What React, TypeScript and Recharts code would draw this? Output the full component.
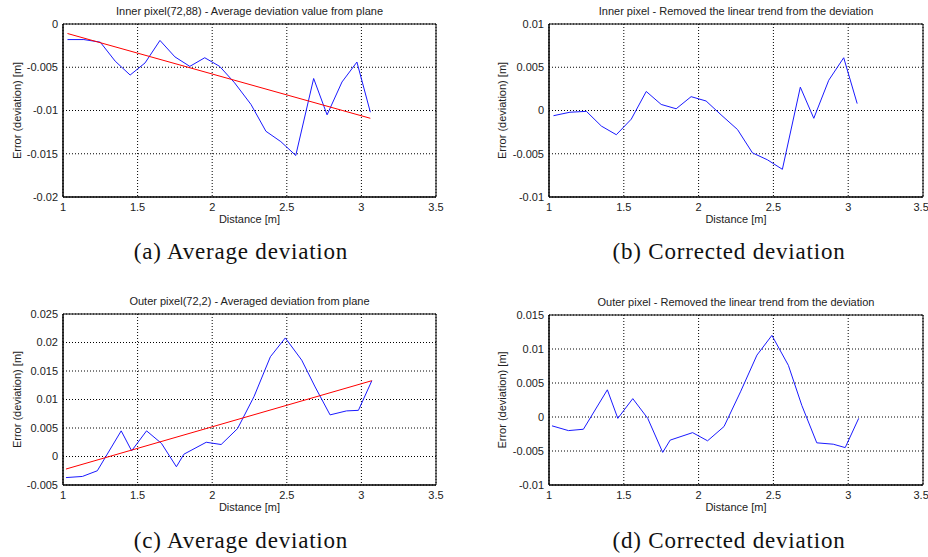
import React from 'react';
import { LineChart, Line, XAxis, YAxis, CartesianGrid, ReferenceArea, Label } from 'recharts';

// ---- data ----
const distanceTicks = [1, 1.5, 2, 2.5, 3, 3.5];

const innerDistance = [1.03, 1.14, 1.25, 1.35, 1.45, 1.55, 1.65, 1.75, 1.85, 1.95, 2.05, 2.15, 2.26, 2.36, 2.46, 2.56, 2.68, 2.77, 2.87, 2.97, 3.06];
const innerAverage = [-0.0018, -0.0018, -0.0021, -0.0043, -0.0059, -0.0045, -0.0019, -0.0038, -0.0049, -0.0039, -0.0049, -0.0068, -0.0093, -0.0124, -0.0136, -0.0152, -0.0063, -0.0105, -0.0067, -0.0044, -0.0102];
const innerTrendDistance = [1.03, 3.06];
const innerTrend = [-0.0011, -0.0109];
const innerCorrected = [-0.0006, -0.0002, -0.0001, -0.0018, -0.0028, -0.0010, 0.0022, 0.0007, 0.0002, 0.0016, 0.0011, -0.0005, -0.0022, -0.0049, -0.0057, -0.0068, 0.0027, -0.0009, 0.0035, 0.0061, 0.0008];

const outerDistance = [1.02, 1.13, 1.23, 1.39, 1.46, 1.56, 1.66, 1.76, 1.81, 1.96, 2.06, 2.17, 2.28, 2.39, 2.49, 2.60, 2.69, 2.79, 2.90, 2.98, 3.07];
const outerAverage = [-0.0037, -0.0035, -0.0025, 0.0045, 0.0010, 0.0045, 0.0023, -0.0018, 0.0004, 0.0025, 0.0021, 0.0049, 0.0105, 0.0175, 0.0208, 0.0169, 0.0122, 0.0073, 0.0080, 0.0081, 0.0133];
const outerTrendDistance = [1.02, 3.07];
const outerTrend = [-0.0022, 0.0133];
const outerCorrected = [-0.0013, -0.0020, -0.0018, 0.0040, -0.0002, 0.0027, -0.0002, -0.0052, -0.0034, -0.0023, -0.0035, -0.0014, 0.0037, 0.0091, 0.0120, 0.0076, 0.0017, -0.0038, -0.0040, -0.0045, -0.0002];

const ticksA = [-0.02, -0.015, -0.01, -0.005, 0];
const ticksB = [-0.01, -0.005, 0, 0.005, 0.01];
const ticksC = [-0.005, 0, 0.005, 0.01, 0.015, 0.02, 0.025];
const ticksD = [-0.01, -0.005, 0, 0.005, 0.01, 0.015];

const titles = [
  'Inner pixel(72,88) - Average deviation value from plane',
  'Inner pixel - Removed the linear trend from the deviation',
  'Outer pixel(72,2) - Averaged deviation from plane',
  'Outer pixel - Removed the linear trend from the deviation',
];
const captions = ['(a) Average deviation', '(b) Corrected deviation', '(c) Average deviation', '(d) Corrected deviation'];

const zip = (xs: number[], ys: number[]) => xs.map((x, i) => ({ x, y: ys[i] }));

const SANS = '"Liberation Sans", Arial, sans-serif';
const SERIF = '"Liberation Serif", "Times New Roman", serif';

type PanelProps = {
  left: number;
  top: number;
  width: number;
  height: number;
  marginTop: number;
  marginRight: number;
  yWidth: number;
  yTicks: number[];
  blue: { x: number; y: number }[];
  red?: { x: number; y: number }[];
  title: string;
  yLabelX: number;
};

function Panel(p: PanelProps) {
  const yDomain: [number, number] = [p.yTicks[0], p.yTicks[p.yTicks.length - 1]];
  const plotLeft = p.left + p.yWidth;
  const plotRight = p.left + p.width - p.marginRight;
  return (
    <>
      <div
        style={{
          position: 'absolute',
          left: plotLeft,
          width: plotRight - plotLeft,
          top: p.top + p.marginTop - 19,
          textAlign: 'center',
          fontFamily: SANS,
          fontSize: 11,
          lineHeight: '13px',
          color: '#222',
          whiteSpace: 'nowrap',
        }}
      >
        {p.title}
      </div>
      <div style={{ position: 'absolute', left: p.left, top: p.top }}>
        <LineChart
          width={p.width}
          height={p.height}
          margin={{ top: p.marginTop, right: p.marginRight, left: 0, bottom: 0 }}
        >
          <CartesianGrid stroke="#000" strokeDasharray="1 2" strokeWidth={1} />
          <XAxis
            type="number"
            dataKey="x"
            domain={[1, 3.5]}
            ticks={distanceTicks}
            allowDataOverflow
            height={33}
            tickLine={false}
            tickSize={0}
            tickMargin={6}
            axisLine={{ stroke: '#000' }}
            tick={{ fontFamily: SANS, fontSize: 11, fill: '#222' }}
          >
            <Label
              content={(lp: any) => {
                const vb = lp.viewBox || {};
                return (
                  <text
                    x={vb.x + vb.width / 2}
                    y={vb.y + 26}
                    textAnchor="middle"
                    fontFamily={SANS}
                    fontSize={11}
                    fill="#222"
                  >
                    Distance [m]
                  </text>
                );
              }}
            />
          </XAxis>
          <YAxis
            type="number"
            domain={yDomain}
            ticks={p.yTicks}
            allowDataOverflow
            width={p.yWidth}
            tickLine={false}
            tickSize={0}
            tickMargin={5}
            axisLine={{ stroke: '#000' }}
            tick={{ fontFamily: SANS, fontSize: 11, fill: '#222' }}
            tickFormatter={(v: number) => String(v)}
          >
            <Label
              content={(lp: any) => {
                const vb = lp.viewBox || {};
                const cx = vb.x + p.yLabelX;
                const cy = vb.y + vb.height / 2;
                return (
                  <text
                    x={cx}
                    y={cy}
                    dy={4}
                    textAnchor="middle"
                    transform={`rotate(-90, ${cx}, ${cy})`}
                    fontFamily={SANS}
                    fontSize={11}
                    fill="#222"
                  >
                    Error (deviation) [m]
                  </text>
                );
              }}
            />
          </YAxis>
          <ReferenceArea x1={1} x2={3.5} y1={yDomain[0]} y2={yDomain[1]} fill="none" stroke="#000" strokeWidth={1} fillOpacity={0} />
          <Line data={p.blue} dataKey="y" stroke="#1a1aff" strokeWidth={1} dot={false} isAnimationActive={false} />
          {p.red && (
            <Line data={p.red} dataKey="y" stroke="#ff0000" strokeWidth={1} dot={false} isAnimationActive={false} />
          )}
        </LineChart>
      </div>
    </>
  );
}

function Caption({ cx, cy, text }: { cx: number; cy: number; text: string }) {
  return (
    <div
      style={{
        position: 'absolute',
        left: cx - 200,
        width: 400,
        top: cy - 14,
        lineHeight: '28px',
        textAlign: 'center',
        fontFamily: SERIF,
        fontSize: 23,
        letterSpacing: 0.8,
        color: '#111',
        whiteSpace: 'nowrap',
      }}
    >
      {text}
    </div>
  );
}

export default function App() {
  return (
    <div style={{ position: 'absolute', left: 0, top: 0, width: 928, height: 557, background: '#fff', overflow: 'hidden' }}>
      <Panel
        left={0}
        top={0}
        width={464}
        height={230}
        marginTop={24}
        marginRight={28}
        yWidth={63}
        yTicks={ticksA}
        blue={zip(innerDistance, innerAverage)}
        red={zip(innerTrendDistance, innerTrend)}
        title={titles[0]}
        yLabelX={17}
      />
      <Panel
        left={464}
        top={0}
        width={464}
        height={230}
        marginTop={24}
        marginRight={5}
        yWidth={85}
        yTicks={ticksB}
        blue={zip(innerDistance, innerCorrected)}
        title={titles[1]}
        yLabelX={38}
      />
      <Panel
        left={0}
        top={285}
        width={464}
        height={233}
        marginTop={29}
        marginRight={28}
        yWidth={63}
        yTicks={ticksC}
        blue={zip(outerDistance, outerAverage)}
        red={zip(outerTrendDistance, outerTrend)}
        title={titles[2]}
        yLabelX={17}
      />
      <Panel
        left={464}
        top={285}
        width={464}
        height={233}
        marginTop={30}
        marginRight={5}
        yWidth={85}
        yTicks={ticksD}
        blue={zip(outerDistance, outerCorrected)}
        title={titles[3]}
        yLabelX={38}
      />
      <Caption cx={241} cy={252} text={captions[0]} />
      <Caption cx={729} cy={252} text={captions[1]} />
      <Caption cx={241} cy={541} text={captions[2]} />
      <Caption cx={729} cy={541} text={captions[3]} />
    </div>
  );
}
